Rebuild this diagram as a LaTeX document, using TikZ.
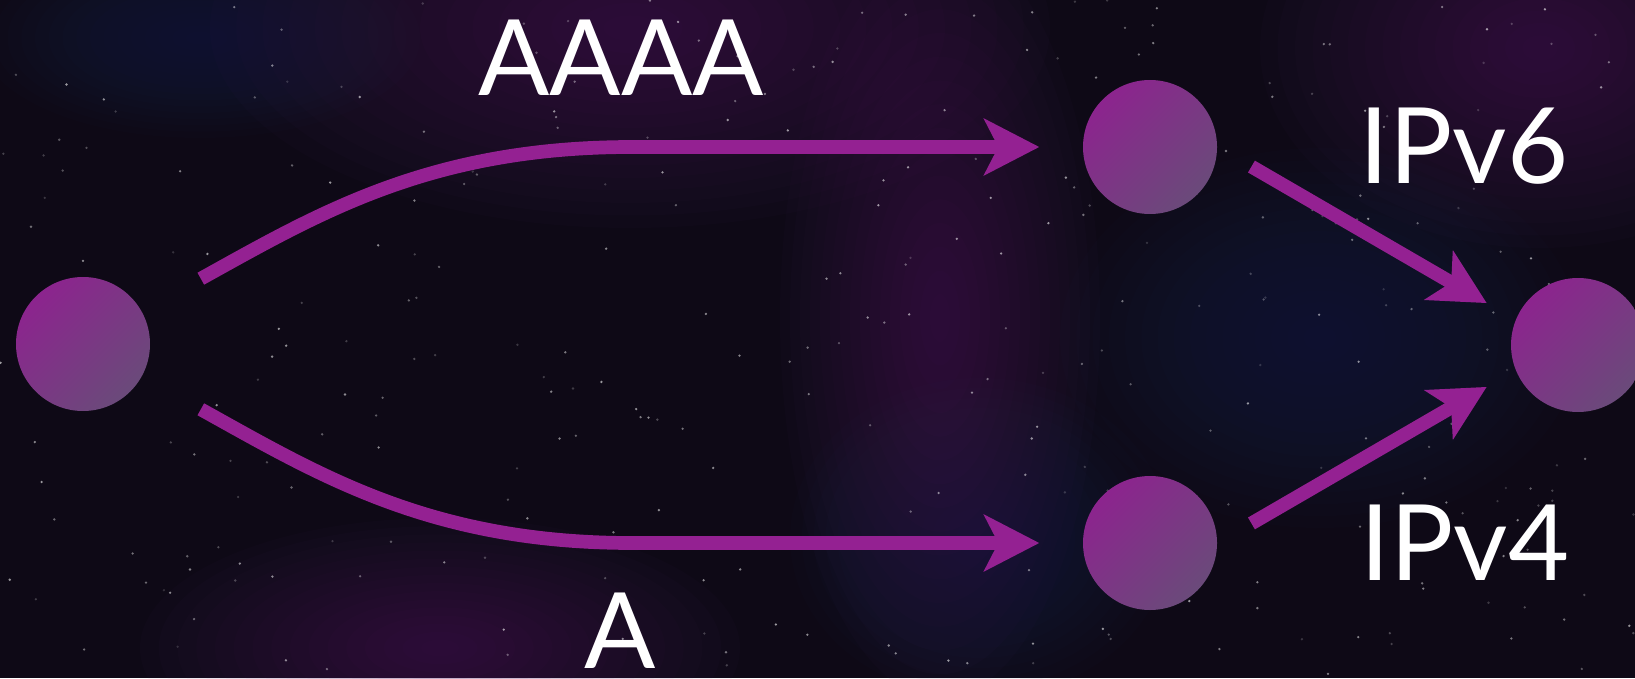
\documentclass[tikz,border=0pt]{standalone}
\usepackage{fontspec}
\setmainfont{Lato}
\usepackage{tikz}
\usetikzlibrary{arrows.meta,positioning}
\definecolor{spacebg}{RGB}{14,9,22}
\definecolor{nebula}{RGB}{96,40,110}
\definecolor{nebulablue}{RGB}{40,44,96}
\definecolor{arrowpurple}{RGB}{148,33,146}
\definecolor{dotlight}{RGB}{140,36,142}
\definecolor{dotdark}{RGB}{106,74,122}

\begin{document}
\begin{tikzpicture}[
    >={Stealth[length=0.55cm,width=0.56cm,inset=0.14cm]},
    host/.style={circle,minimum size=1.34cm,inner sep=0pt,top color=dotlight,bottom color=dotdark,shading angle=45},
    flow/.style={draw=arrowpurple,line width=3.9pt},
    lbl/.style={text=white,inner sep=0pt,font=\fontsize{30}{36}\selectfont}
  ]
    \useasboundingbox (0,0) rectangle (16.35,6.78);
    \clip (0,0) rectangle (16.35,6.78);

    % Background
    \fill[spacebg] (0,0) rectangle (16.35,6.78);
    \foreach \x/\y/\a/\b/\c in {6.3/6.5/4.2/2.0/nebula, 15.4/6.3/2.8/2.0/nebula, 9.4/3.6/1.6/3.8/nebula,
                                4.4/0.3/3.0/1.3/nebula, 13.2/3.4/2.6/1.9/nebulablue, 9.8/1.4/1.9/1.6/nebulablue,
                                2.0/6.4/2.2/1.0/nebulablue} {
      \foreach \r in {1,...,16}
        \fill[\c,opacity=0.035] (\x,\y) ellipse ({\a*\r/16} and {\b*\r/16});
    }
    \pgfmathsetseed{17}
    \foreach \k in {1,...,320} {
      \pgfmathsetmacro\sx{16.35*rnd}
      \pgfmathsetmacro\sy{6.78*rnd}
      \pgfmathsetmacro\so{0.15+0.45*rnd}
      \fill[white,opacity=\so] (\sx,\sy) circle (0.013);
    }

    % Hosts
    \node[host] (src) at (0.83,3.34) {};
    \node[host] (v6) at (11.50,5.31) {};
    \node[host] (v4) at (11.50,1.35) {};
    \node[host] (dst) at (15.78,3.33) {};

    % Lookups
    \draw[flow,<-,shorten <=0.43cm,shorten >=0.67cm] (v6.west) -- ++(-4.5,0) to[out=180,in=29] (src.29);
    \draw[flow,<-,shorten <=0.43cm,shorten >=0.67cm] (v4.west) -- ++(-4.5,0) to[out=180,in=-29] (src.-29);
    \node[lbl] (aaaa) at (6.21,6.20) {AAAA};
    \node[lbl] (arec) at (6.20,0.47) {A};

    % Connections
    \draw[flow,->,shorten <=0.39cm,shorten >=0.33cm] (v6.east) -- (dst.158);
    \draw[flow,->,shorten <=0.39cm,shorten >=0.33cm] (v4.east) -- (dst.202);
    \node[lbl] (ipsix) at (14.64,5.32) {IPv6};
    \node[lbl] (ipfour) at (14.65,1.35) {IPv4};
\end{tikzpicture}
\end{document}
